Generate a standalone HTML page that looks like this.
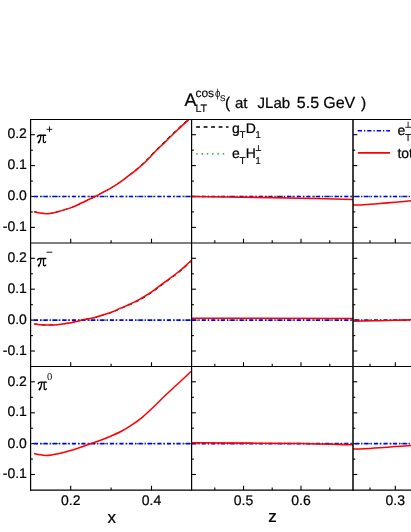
<!DOCTYPE html>
<html><head><meta charset="utf-8"><title>A_LT</title>
<style>html,body{margin:0;padding:0;background:#fff;}svg{display:block;will-change:transform;transform:translateZ(0)}</style>
</head><body>
<svg width="411" height="532" viewBox="0 0 411 532" text-rendering="geometricPrecision">
<rect width="411" height="532" fill="#fff"/>
<defs>
<clipPath id="c00"><rect x="30.6" y="119.5" width="161.0" height="123.55"/></clipPath>
<clipPath id="c01"><rect x="191.6" y="119.5" width="161.4" height="123.55"/></clipPath>
<clipPath id="c02"><rect x="353.0" y="119.5" width="58.0" height="123.55"/></clipPath>
<clipPath id="c10"><rect x="30.6" y="243.0" width="161.0" height="123.55"/></clipPath>
<clipPath id="c11"><rect x="191.6" y="243.0" width="161.4" height="123.55"/></clipPath>
<clipPath id="c12"><rect x="353.0" y="243.0" width="58.0" height="123.55"/></clipPath>
<clipPath id="c20"><rect x="30.6" y="366.55" width="161.0" height="123.55"/></clipPath>
<clipPath id="c21"><rect x="191.6" y="366.55" width="161.4" height="123.55"/></clipPath>
<clipPath id="c22"><rect x="353.0" y="366.55" width="58.0" height="123.55"/></clipPath>
</defs>
<path d="M30.6 134.7 h4.3" stroke="#000" stroke-width="1.1"/>
<path d="M30.6 150.2 h2.3" stroke="#000" stroke-width="1.1"/>
<path d="M30.6 165.6 h4.3" stroke="#000" stroke-width="1.1"/>
<path d="M30.6 181.1 h2.3" stroke="#000" stroke-width="1.1"/>
<path d="M30.6 196.5 h4.3" stroke="#000" stroke-width="1.1"/>
<path d="M30.6 211.9 h2.3" stroke="#000" stroke-width="1.1"/>
<path d="M30.6 227.4 h4.3" stroke="#000" stroke-width="1.1"/>
<path d="M191.6 134.7 h4.3" stroke="#000" stroke-width="1.1"/>
<path d="M191.6 150.2 h2.3" stroke="#000" stroke-width="1.1"/>
<path d="M191.6 165.6 h4.3" stroke="#000" stroke-width="1.1"/>
<path d="M191.6 181.1 h2.3" stroke="#000" stroke-width="1.1"/>
<path d="M191.6 196.5 h4.3" stroke="#000" stroke-width="1.1"/>
<path d="M191.6 211.9 h2.3" stroke="#000" stroke-width="1.1"/>
<path d="M191.6 227.4 h4.3" stroke="#000" stroke-width="1.1"/>
<path d="M353.0 134.7 h4.3" stroke="#000" stroke-width="1.1"/>
<path d="M353.0 150.2 h2.3" stroke="#000" stroke-width="1.1"/>
<path d="M353.0 165.6 h4.3" stroke="#000" stroke-width="1.1"/>
<path d="M353.0 181.1 h2.3" stroke="#000" stroke-width="1.1"/>
<path d="M353.0 196.5 h4.3" stroke="#000" stroke-width="1.1"/>
<path d="M353.0 211.9 h2.3" stroke="#000" stroke-width="1.1"/>
<path d="M353.0 227.4 h4.3" stroke="#000" stroke-width="1.1"/>
<path d="M30.6 258.3 h4.3" stroke="#000" stroke-width="1.1"/>
<path d="M30.6 273.8 h2.3" stroke="#000" stroke-width="1.1"/>
<path d="M30.6 289.2 h4.3" stroke="#000" stroke-width="1.1"/>
<path d="M30.6 304.7 h2.3" stroke="#000" stroke-width="1.1"/>
<path d="M30.6 320.1 h4.3" stroke="#000" stroke-width="1.1"/>
<path d="M30.6 335.6 h2.3" stroke="#000" stroke-width="1.1"/>
<path d="M30.6 351.0 h4.3" stroke="#000" stroke-width="1.1"/>
<path d="M191.6 258.3 h4.3" stroke="#000" stroke-width="1.1"/>
<path d="M191.6 273.8 h2.3" stroke="#000" stroke-width="1.1"/>
<path d="M191.6 289.2 h4.3" stroke="#000" stroke-width="1.1"/>
<path d="M191.6 304.7 h2.3" stroke="#000" stroke-width="1.1"/>
<path d="M191.6 320.1 h4.3" stroke="#000" stroke-width="1.1"/>
<path d="M191.6 335.6 h2.3" stroke="#000" stroke-width="1.1"/>
<path d="M191.6 351.0 h4.3" stroke="#000" stroke-width="1.1"/>
<path d="M353.0 258.3 h4.3" stroke="#000" stroke-width="1.1"/>
<path d="M353.0 273.8 h2.3" stroke="#000" stroke-width="1.1"/>
<path d="M353.0 289.2 h4.3" stroke="#000" stroke-width="1.1"/>
<path d="M353.0 304.7 h2.3" stroke="#000" stroke-width="1.1"/>
<path d="M353.0 320.1 h4.3" stroke="#000" stroke-width="1.1"/>
<path d="M353.0 335.6 h2.3" stroke="#000" stroke-width="1.1"/>
<path d="M353.0 351.0 h4.3" stroke="#000" stroke-width="1.1"/>
<path d="M30.6 381.8 h4.3" stroke="#000" stroke-width="1.1"/>
<path d="M30.6 397.3 h2.3" stroke="#000" stroke-width="1.1"/>
<path d="M30.6 412.8 h4.3" stroke="#000" stroke-width="1.1"/>
<path d="M30.6 428.2 h2.3" stroke="#000" stroke-width="1.1"/>
<path d="M30.6 443.6 h4.3" stroke="#000" stroke-width="1.1"/>
<path d="M30.6 459.1 h2.3" stroke="#000" stroke-width="1.1"/>
<path d="M30.6 474.5 h4.3" stroke="#000" stroke-width="1.1"/>
<path d="M191.6 381.8 h4.3" stroke="#000" stroke-width="1.1"/>
<path d="M191.6 397.3 h2.3" stroke="#000" stroke-width="1.1"/>
<path d="M191.6 412.8 h4.3" stroke="#000" stroke-width="1.1"/>
<path d="M191.6 428.2 h2.3" stroke="#000" stroke-width="1.1"/>
<path d="M191.6 443.6 h4.3" stroke="#000" stroke-width="1.1"/>
<path d="M191.6 459.1 h2.3" stroke="#000" stroke-width="1.1"/>
<path d="M191.6 474.5 h4.3" stroke="#000" stroke-width="1.1"/>
<path d="M353.0 381.8 h4.3" stroke="#000" stroke-width="1.1"/>
<path d="M353.0 397.3 h2.3" stroke="#000" stroke-width="1.1"/>
<path d="M353.0 412.8 h4.3" stroke="#000" stroke-width="1.1"/>
<path d="M353.0 428.2 h2.3" stroke="#000" stroke-width="1.1"/>
<path d="M353.0 443.6 h4.3" stroke="#000" stroke-width="1.1"/>
<path d="M353.0 459.1 h2.3" stroke="#000" stroke-width="1.1"/>
<path d="M353.0 474.5 h4.3" stroke="#000" stroke-width="1.1"/>
<path d="M70.7 243.05 v-4.3" stroke="#000" stroke-width="1.1"/>
<path d="M111.1 243.05 v-2.7" stroke="#000" stroke-width="1.1"/>
<path d="M151.5 243.05 v-4.3" stroke="#000" stroke-width="1.1"/>
<path d="M214.8 243.05 v-2.7" stroke="#000" stroke-width="1.1"/>
<path d="M243.5 243.05 v-4.3" stroke="#000" stroke-width="1.1"/>
<path d="M272.2 243.05 v-2.7" stroke="#000" stroke-width="1.1"/>
<path d="M301.0 243.05 v-4.3" stroke="#000" stroke-width="1.1"/>
<path d="M329.8 243.05 v-2.7" stroke="#000" stroke-width="1.1"/>
<path d="M370.0 243.05 v-2.7" stroke="#000" stroke-width="1.1"/>
<path d="M395.3 243.05 v-4.3" stroke="#000" stroke-width="1.1"/>
<path d="M70.7 366.55 v-4.3" stroke="#000" stroke-width="1.1"/>
<path d="M111.1 366.55 v-2.7" stroke="#000" stroke-width="1.1"/>
<path d="M151.5 366.55 v-4.3" stroke="#000" stroke-width="1.1"/>
<path d="M214.8 366.55 v-2.7" stroke="#000" stroke-width="1.1"/>
<path d="M243.5 366.55 v-4.3" stroke="#000" stroke-width="1.1"/>
<path d="M272.2 366.55 v-2.7" stroke="#000" stroke-width="1.1"/>
<path d="M301.0 366.55 v-4.3" stroke="#000" stroke-width="1.1"/>
<path d="M329.8 366.55 v-2.7" stroke="#000" stroke-width="1.1"/>
<path d="M370.0 366.55 v-2.7" stroke="#000" stroke-width="1.1"/>
<path d="M395.3 366.55 v-4.3" stroke="#000" stroke-width="1.1"/>
<path d="M70.7 490.1 v-4.3" stroke="#000" stroke-width="1.1"/>
<path d="M111.1 490.1 v-2.7" stroke="#000" stroke-width="1.1"/>
<path d="M151.5 490.1 v-4.3" stroke="#000" stroke-width="1.1"/>
<path d="M214.8 490.1 v-2.7" stroke="#000" stroke-width="1.1"/>
<path d="M243.5 490.1 v-4.3" stroke="#000" stroke-width="1.1"/>
<path d="M272.2 490.1 v-2.7" stroke="#000" stroke-width="1.1"/>
<path d="M301.0 490.1 v-4.3" stroke="#000" stroke-width="1.1"/>
<path d="M329.8 490.1 v-2.7" stroke="#000" stroke-width="1.1"/>
<path d="M370.0 490.1 v-2.7" stroke="#000" stroke-width="1.1"/>
<path d="M395.3 490.1 v-4.3" stroke="#000" stroke-width="1.1"/>
<g clip-path="url(#c00)"><path d="M34.10 211.60 C35.08 211.83 37.85 212.65 40.00 213.00 C42.15 213.35 44.83 213.70 47.00 213.70 C49.17 213.70 50.90 213.40 53.00 213.00 C55.10 212.60 56.47 212.23 59.60 211.30 C62.73 210.37 68.15 208.78 71.80 207.40 C75.45 206.02 77.88 204.68 81.50 203.00 C85.12 201.32 89.83 199.13 93.50 197.30 C97.17 195.47 100.42 193.65 103.50 192.00 C106.58 190.35 109.15 189.09 111.98 187.38 C114.81 185.67 117.66 183.76 120.48 181.73 C123.30 179.71 126.09 177.44 128.89 175.24 C131.69 173.03 134.49 170.90 137.29 168.49 C140.10 166.09 142.90 163.58 145.70 160.80 C148.50 158.02 150.97 155.00 154.10 151.80 C157.24 148.60 161.75 144.32 164.50 141.60 C167.25 138.88 168.52 137.52 170.60 135.50 C172.68 133.48 174.88 131.48 177.00 129.50 C179.12 127.52 181.28 125.43 183.30 123.60 C185.32 121.77 188.13 119.35 189.10 118.50" fill="none" stroke="#000" stroke-width="1.0" stroke-dasharray="3.9 3.6"/><path d="M30.6 196.5 H191.6" stroke="#129212" stroke-width="1.4" stroke-dasharray="1.5 3.8"/><path d="M33.85 196.5 H191.6" stroke="#0000ff" stroke-width="1.6" stroke-dasharray="4.2 2.0 1.3 2.0"/><path d="M34.10 211.60 C35.08 211.83 37.85 212.65 40.00 213.00 C42.15 213.35 44.83 213.70 47.00 213.70 C49.17 213.70 50.90 213.40 53.00 213.00 C55.10 212.60 56.47 212.23 59.60 211.30 C62.73 210.37 68.15 208.78 71.80 207.40 C75.45 206.02 77.88 204.68 81.50 203.00 C85.12 201.32 89.83 199.13 93.50 197.30 C97.17 195.47 100.42 193.65 103.50 192.00 C106.58 190.35 109.15 189.09 112.00 187.40 C114.85 185.71 117.75 183.84 120.60 181.85 C123.45 179.86 126.27 177.62 129.10 175.45 C131.93 173.28 134.77 171.18 137.60 168.80 C140.43 166.43 143.27 163.95 146.10 161.20 C148.93 158.45 151.45 155.48 154.60 152.30 C157.75 149.12 162.25 144.82 165.00 142.10 C167.75 139.38 169.02 138.02 171.10 136.00 C173.18 133.98 175.38 131.98 177.50 130.00 C179.62 128.02 181.78 125.93 183.80 124.10 C185.82 122.27 188.63 119.85 189.60 119.00" fill="none" stroke="#ff0000" stroke-width="1.55" stroke-linejoin="round"/></g>
<g clip-path="url(#c01)"><path d="M191.6 196.5 H353.0" stroke="#129212" stroke-width="1.4" stroke-dasharray="1.5 3.8"/><path d="M192.2 196.5 H353.0" stroke="#0000ff" stroke-width="1.6" stroke-dasharray="4.2 2.0 1.3 2.0"/><path d="M191.60 196.60 C199.67 196.69 221.93 196.89 240.00 197.15 C258.07 197.41 281.17 197.77 300.00 198.15 C318.83 198.53 344.17 199.23 353.00 199.45" fill="none" stroke="#ff0000" stroke-width="1.55" stroke-linejoin="round"/></g>
<g clip-path="url(#c02)"><path d="M353.0 196.5 H411" stroke="#129212" stroke-width="1.4" stroke-dasharray="1.5 3.8"/><path d="M354.9 196.5 H411" stroke="#0000ff" stroke-width="1.6" stroke-dasharray="4.2 2.0 1.3 2.0"/><path d="M353.00 205.10 C354.83 205.03 359.50 204.97 364.00 204.70 C368.50 204.43 374.83 203.92 380.00 203.50 C385.17 203.08 389.83 202.65 395.00 202.20 C400.17 201.75 408.33 201.03 411.00 200.80" fill="none" stroke="#ff0000" stroke-width="1.55" stroke-linejoin="round"/></g>
<g clip-path="url(#c10)"><path d="M34.10 323.90 C35.08 324.03 37.93 324.51 40.00 324.70 C42.07 324.89 44.33 325.02 46.50 325.05 C48.67 325.08 50.82 325.01 53.00 324.90 C55.18 324.79 57.43 324.63 59.60 324.40 C61.77 324.17 63.57 323.90 66.00 323.50 C68.43 323.10 71.00 322.70 74.20 322.00 C77.40 321.30 81.72 320.05 85.20 319.30 C88.68 318.55 91.98 318.23 95.06 317.51 C98.13 316.78 100.79 315.83 103.65 314.95 C106.51 314.07 109.36 313.32 112.24 312.24 C115.13 311.17 118.06 309.71 120.94 308.49 C123.82 307.27 126.67 306.20 129.53 304.93 C132.39 303.67 135.81 302.06 138.10 300.90 C140.39 299.74 140.60 299.68 143.30 298.00 C146.00 296.32 150.65 293.37 154.30 290.80 C157.95 288.23 161.55 285.32 165.20 282.60 C168.85 279.88 172.92 277.05 176.20 274.50 C179.48 271.95 182.32 269.57 184.90 267.30 C187.48 265.03 190.57 261.97 191.70 260.90" fill="none" stroke="#000" stroke-width="1.0" stroke-dasharray="3.9 3.6"/><path d="M30.6 320.1 H191.6" stroke="#129212" stroke-width="1.4" stroke-dasharray="1.5 3.8"/><path d="M33.85 320.1 H191.6" stroke="#0000ff" stroke-width="1.6" stroke-dasharray="4.2 2.0 1.3 2.0"/><path d="M34.10 323.90 C35.08 324.03 37.93 324.51 40.00 324.70 C42.07 324.89 44.33 325.02 46.50 325.05 C48.67 325.08 50.82 325.01 53.00 324.90 C55.18 324.79 57.43 324.63 59.60 324.40 C61.77 324.17 63.57 323.90 66.00 323.50 C68.43 323.10 71.00 322.70 74.20 322.00 C77.40 321.30 81.73 320.06 85.20 319.30 C88.67 318.54 91.95 318.20 95.00 317.45 C98.05 316.70 100.67 315.71 103.50 314.80 C106.33 313.89 109.15 313.11 112.00 312.00 C114.85 310.89 117.75 309.40 120.60 308.15 C123.45 306.90 126.27 305.79 129.10 304.50 C131.93 303.21 135.32 301.57 137.60 300.40 C139.88 299.23 140.10 299.18 142.80 297.50 C145.50 295.82 150.15 292.87 153.80 290.30 C157.45 287.73 161.05 284.82 164.70 282.10 C168.35 279.38 172.42 276.55 175.70 274.00 C178.98 271.45 181.82 269.07 184.40 266.80 C186.98 264.53 190.07 261.47 191.20 260.40" fill="none" stroke="#ff0000" stroke-width="1.55" stroke-linejoin="round"/></g>
<g clip-path="url(#c11)"><path d="M191.6 320.1 H353.0" stroke="#129212" stroke-width="1.4" stroke-dasharray="1.5 3.8"/><path d="M192.2 320.1 H353.0" stroke="#0000ff" stroke-width="1.6" stroke-dasharray="4.2 2.0 1.3 2.0"/><path d="M191.60 318.15 L353.00 318.40" fill="none" stroke="#ff0000" stroke-width="1.55" stroke-linejoin="round"/></g>
<g clip-path="url(#c12)"><path d="M353.0 320.1 H411" stroke="#129212" stroke-width="1.4" stroke-dasharray="1.5 3.8"/><path d="M354.9 320.1 H411" stroke="#0000ff" stroke-width="1.6" stroke-dasharray="4.2 2.0 1.3 2.0"/><path d="M353.00 321.20 C354.83 321.17 359.50 321.08 364.00 321.00 C368.50 320.92 374.83 320.82 380.00 320.70 C385.17 320.58 389.83 320.45 395.00 320.30 C400.17 320.15 408.33 319.88 411.00 319.80" fill="none" stroke="#ff0000" stroke-width="1.55" stroke-linejoin="round"/></g>
<g clip-path="url(#c20)"><path d="M30.6 443.6 H191.6" stroke="#129212" stroke-width="1.4" stroke-dasharray="1.5 3.8"/><path d="M33.85 443.6 H191.6" stroke="#0000ff" stroke-width="1.6" stroke-dasharray="4.2 2.0 1.3 2.0"/><path d="M34.10 453.40 C35.08 453.62 38.07 454.37 40.00 454.70 C41.93 455.03 43.70 455.37 45.70 455.40 C47.70 455.43 49.93 455.17 52.00 454.90 C54.07 454.63 55.02 454.53 58.10 453.80 C61.18 453.07 66.37 451.73 70.50 450.50 C74.63 449.27 79.45 447.58 82.90 446.40 C86.35 445.22 88.35 444.38 91.20 443.40 C94.05 442.42 96.87 441.65 100.00 440.50 C103.13 439.35 106.52 437.99 110.00 436.50 C113.48 435.01 117.25 433.48 120.90 431.55 C124.55 429.62 128.25 427.36 131.90 424.90 C135.55 422.44 139.15 419.82 142.80 416.80 C146.45 413.78 150.15 410.27 153.80 406.80 C157.45 403.33 161.05 399.50 164.70 396.00 C168.35 392.50 172.42 388.83 175.70 385.80 C178.98 382.77 181.77 380.27 184.40 377.80 C187.03 375.33 190.32 372.13 191.50 371.00" fill="none" stroke="#ff0000" stroke-width="1.55" stroke-linejoin="round"/></g>
<g clip-path="url(#c21)"><path d="M191.6 443.6 H353.0" stroke="#129212" stroke-width="1.4" stroke-dasharray="1.5 3.8"/><path d="M192.2 443.6 H353.0" stroke="#0000ff" stroke-width="1.6" stroke-dasharray="4.2 2.0 1.3 2.0"/><path d="M191.60 442.70 C209.67 442.85 273.10 443.24 300.00 443.60 C326.90 443.96 344.17 444.64 353.00 444.85" fill="none" stroke="#ff0000" stroke-width="1.55" stroke-linejoin="round"/></g>
<g clip-path="url(#c22)"><path d="M353.0 443.6 H411" stroke="#129212" stroke-width="1.4" stroke-dasharray="1.5 3.8"/><path d="M354.9 443.6 H411" stroke="#0000ff" stroke-width="1.6" stroke-dasharray="4.2 2.0 1.3 2.0"/><path d="M353.00 449.05 C354.83 448.99 359.50 448.92 364.00 448.70 C368.50 448.48 374.83 448.05 380.00 447.70 C385.17 447.35 389.83 446.97 395.00 446.60 C400.17 446.23 408.33 445.68 411.00 445.50" fill="none" stroke="#ff0000" stroke-width="1.55" stroke-linejoin="round"/></g>
<path d="M30.6 118.9 V490.70000000000005" stroke="#000" stroke-width="1.2"/>
<path d="M191.6 118.9 V490.70000000000005" stroke="#000" stroke-width="1.2"/>
<path d="M353.0 118.9 V490.70000000000005" stroke="#000" stroke-width="1.5"/>
<path d="M30.0 119.5 H411" stroke="#000" stroke-width="1.1"/>
<path d="M30.0 243.0 H411" stroke="#000" stroke-width="1.1"/>
<path d="M30.0 366.55 H411" stroke="#000" stroke-width="1.1"/>
<path d="M30.0 490.1 H411" stroke="#000" stroke-width="1.1"/>
<text x="26.9" y="138" font-family="Liberation Sans, sans-serif" stroke="#000" stroke-width="0.22" font-size="14" text-anchor="end" fill="#000">0.2</text>
<text x="26.9" y="169" font-family="Liberation Sans, sans-serif" stroke="#000" stroke-width="0.22" font-size="14" text-anchor="end" fill="#000">0.1</text>
<text x="26.9" y="200" font-family="Liberation Sans, sans-serif" stroke="#000" stroke-width="0.22" font-size="14" text-anchor="end" fill="#000">0.0</text>
<text x="26.9" y="231" font-family="Liberation Sans, sans-serif" stroke="#000" stroke-width="0.22" font-size="14" text-anchor="end" fill="#000">-0.1</text>
<text x="26.9" y="262" font-family="Liberation Sans, sans-serif" stroke="#000" stroke-width="0.22" font-size="14" text-anchor="end" fill="#000">0.2</text>
<text x="26.9" y="293" font-family="Liberation Sans, sans-serif" stroke="#000" stroke-width="0.22" font-size="14" text-anchor="end" fill="#000">0.1</text>
<text x="26.9" y="324" font-family="Liberation Sans, sans-serif" stroke="#000" stroke-width="0.22" font-size="14" text-anchor="end" fill="#000">0.0</text>
<text x="26.9" y="355" font-family="Liberation Sans, sans-serif" stroke="#000" stroke-width="0.22" font-size="14" text-anchor="end" fill="#000">-0.1</text>
<text x="26.9" y="386" font-family="Liberation Sans, sans-serif" stroke="#000" stroke-width="0.22" font-size="14" text-anchor="end" fill="#000">0.2</text>
<text x="26.9" y="416" font-family="Liberation Sans, sans-serif" stroke="#000" stroke-width="0.22" font-size="14" text-anchor="end" fill="#000">0.1</text>
<text x="26.9" y="448" font-family="Liberation Sans, sans-serif" stroke="#000" stroke-width="0.22" font-size="14" text-anchor="end" fill="#000">0.0</text>
<text x="26.9" y="478" font-family="Liberation Sans, sans-serif" stroke="#000" stroke-width="0.22" font-size="14" text-anchor="end" fill="#000">-0.1</text>
<text x="70.7" y="505.2" font-family="Liberation Sans, sans-serif" stroke="#000" stroke-width="0.22" font-size="14" text-anchor="middle" fill="#000">0.2</text>
<text x="151.5" y="505.2" font-family="Liberation Sans, sans-serif" stroke="#000" stroke-width="0.22" font-size="14" text-anchor="middle" fill="#000">0.4</text>
<text x="243.5" y="505.2" font-family="Liberation Sans, sans-serif" stroke="#000" stroke-width="0.22" font-size="14" text-anchor="middle" fill="#000">0.5</text>
<text x="301.0" y="505.2" font-family="Liberation Sans, sans-serif" stroke="#000" stroke-width="0.22" font-size="14" text-anchor="middle" fill="#000">0.6</text>
<text x="395.3" y="505.2" font-family="Liberation Sans, sans-serif" stroke="#000" stroke-width="0.22" font-size="14" text-anchor="middle" fill="#000">0.3</text>
<text x="111.7" y="523" font-family="Liberation Sans, sans-serif" stroke="#000" stroke-width="0.22" font-size="17" text-anchor="middle" fill="#000">x</text>
<text x="272.6" y="522" font-family="Liberation Sans, sans-serif" stroke="#000" stroke-width="0.22" font-size="17" text-anchor="middle" fill="#000">z</text>
<g transform="translate(37.2 134.3)" fill="none" stroke="#000" stroke-linecap="round"><path d="M0.3 2.3 Q0.8 0.85 2.2 0.85 H8.4" stroke-width="1.45"/><path d="M3.7 1.2 C3.6 4.5 2.9 6.6 1.5 8.2" stroke-width="1.3"/><path d="M1.9 7.3 L1.3 8.3" stroke-width="1.7"/><path d="M6.2 1.2 V7.0 Q6.2 8.5 7.4 8.35 Q8.1 8.25 8.45 7.5" stroke-width="1.3"/></g>
<g transform="translate(37.3 257.6)" fill="none" stroke="#000" stroke-linecap="round"><path d="M0.3 2.3 Q0.8 0.85 2.2 0.85 H8.4" stroke-width="1.45"/><path d="M3.7 1.2 C3.6 4.5 2.9 6.6 1.5 8.2" stroke-width="1.3"/><path d="M1.9 7.3 L1.3 8.3" stroke-width="1.7"/><path d="M6.2 1.2 V7.0 Q6.2 8.5 7.4 8.35 Q8.1 8.25 8.45 7.5" stroke-width="1.3"/></g>
<g transform="translate(38.0 381.3)" fill="none" stroke="#000" stroke-linecap="round"><path d="M0.3 2.3 Q0.8 0.85 2.2 0.85 H8.4" stroke-width="1.45"/><path d="M3.7 1.2 C3.6 4.5 2.9 6.6 1.5 8.2" stroke-width="1.3"/><path d="M1.9 7.3 L1.3 8.3" stroke-width="1.7"/><path d="M6.2 1.2 V7.0 Q6.2 8.5 7.4 8.35 Q8.1 8.25 8.45 7.5" stroke-width="1.3"/></g>
<path d="M46.6 129.3 H52.4 M49.5 126.4 V132.0" stroke="#000" stroke-width="0.9" fill="none"/>
<path d="M46.5 252.2 H52.3" stroke="#000" stroke-width="0.9" fill="none"/>
<text x="47.0" y="379.7" font-family="Liberation Serif, serif" font-size="10.5" fill="#000">0</text>
<text x="184.6" y="105.8" font-family="Liberation Sans, sans-serif" stroke="#000" stroke-width="0.22" font-size="18" fill="#000">A</text>
<text x="195.4" y="96.8" font-family="Liberation Sans, sans-serif" stroke="#000" stroke-width="0.12" font-size="12" fill="#000">cos</text>
<text x="214.9" y="96.8" font-family="Liberation Sans, sans-serif" font-size="11.5" fill="#000" textLength="5.4" lengthAdjust="spacingAndGlyphs">ϕ</text>
<text x="220.1" y="101" font-family="Liberation Sans, sans-serif" stroke="#000" stroke-width="0.12" font-size="8.2" fill="#000">S</text>
<text x="195.4" y="112.1" font-family="Liberation Sans, sans-serif" stroke="#000" stroke-width="0.12" font-size="10.8" fill="#000">LT</text>
<text x="225.0" y="108.1" font-family="Liberation Sans, sans-serif" stroke="#000" stroke-width="0.22" font-size="15.5" fill="#000">(</text>
<text x="235.0" y="108.1" font-family="Liberation Sans, sans-serif" stroke="#000" stroke-width="0.22" font-size="15" fill="#000">at</text>
<text x="257.6" y="108.1" font-family="Liberation Sans, sans-serif" stroke="#000" stroke-width="0.22" font-size="15" fill="#000">JLab</text>
<text x="296.8" y="108.1" font-family="Liberation Sans, sans-serif" stroke="#000" stroke-width="0.22" font-size="16" fill="#000">5.5</text>
<text x="323.2" y="108.1" font-family="Liberation Sans, sans-serif" stroke="#000" stroke-width="0.22" font-size="16" fill="#000">GeV</text>
<text x="361.0" y="108.1" font-family="Liberation Sans, sans-serif" stroke="#000" stroke-width="0.22" font-size="15.5" fill="#000">)</text>
<path d="M196.1 127.0 H228.5" stroke="#000" stroke-width="1.3" stroke-dasharray="3.9 3.6"/>
<text x="232.0" y="133.2" font-family="Liberation Sans, sans-serif" stroke="#000" stroke-width="0.22" font-size="14" fill="#000">g</text>
<text x="239.6" y="138" font-family="Liberation Sans, sans-serif" stroke="#000" stroke-width="0.12" font-size="10" fill="#000">T</text>
<text x="245.8" y="133.2" font-family="Liberation Sans, sans-serif" stroke="#000" stroke-width="0.22" font-size="14" fill="#000">D</text>
<text x="255.3" y="138" font-family="Liberation Sans, sans-serif" stroke="#000" stroke-width="0.12" font-size="10" fill="#000">1</text>
<path d="M196.2 153.9 H224.5" stroke="#129212" stroke-width="1.4" stroke-dasharray="1.5 3.8"/>
<text x="232.0" y="157.5" font-family="Liberation Sans, sans-serif" stroke="#000" stroke-width="0.22" font-size="14" fill="#000">e</text>
<text x="239.6" y="164" font-family="Liberation Sans, sans-serif" stroke="#000" stroke-width="0.12" font-size="10" fill="#000">T</text>
<text x="245.8" y="157.5" font-family="Liberation Sans, sans-serif" stroke="#000" stroke-width="0.22" font-size="14" fill="#000">H</text>
<text x="255.3" y="164" font-family="Liberation Sans, sans-serif" stroke="#000" stroke-width="0.12" font-size="10" fill="#000">1</text>
<path d="M255.75 150.5 h5.4 M258.45 150.5 v-5.4" stroke="#000" stroke-width="0.85" fill="none"/>
<path d="M357.7 130.7 H390" stroke="#0000ff" stroke-width="1.5" stroke-dasharray="4.3 2 1.3 1.9"/>
<text x="397.4" y="134.6" font-family="Liberation Sans, sans-serif" stroke="#000" stroke-width="0.22" font-size="14" fill="#000">e</text>
<text x="405.1" y="141" font-family="Liberation Sans, sans-serif" stroke="#000" stroke-width="0.12" font-size="10" fill="#000">T</text>
<path d="M405.3 127.3 h5.7 M408.1 127.3 v-5.6" stroke="#000" stroke-width="0.85" fill="none"/>
<path d="M357.9 152.8 H390" stroke="#ff0000" stroke-width="1.7"/>
<text x="397.4" y="157.8" font-family="Liberation Sans, sans-serif" stroke="#000" stroke-width="0.22" font-size="14" fill="#000">tot</text>
</svg>
</body></html>
